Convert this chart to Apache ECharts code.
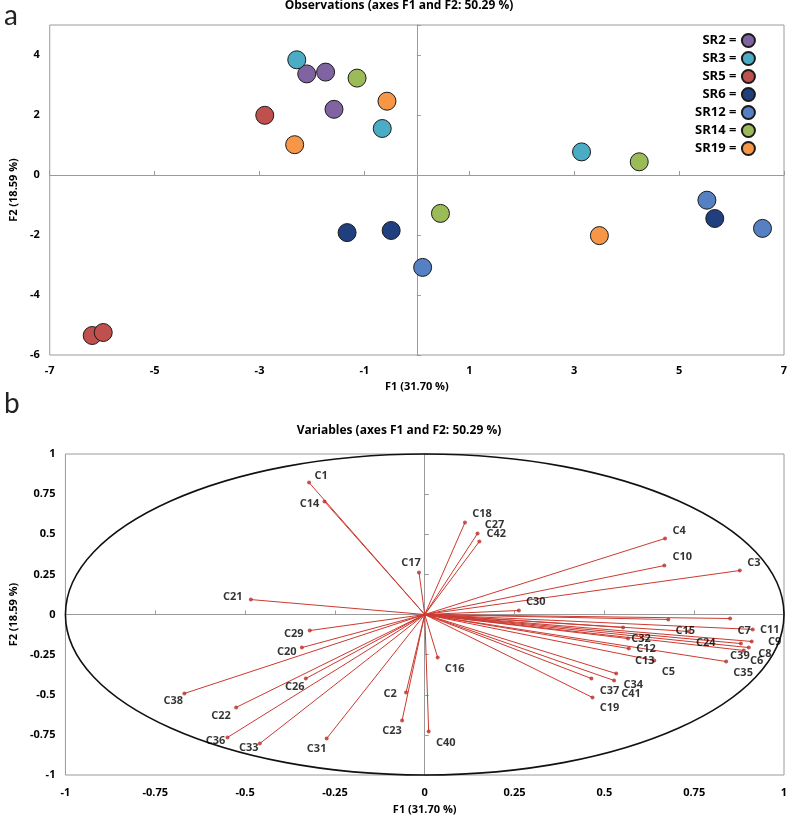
<!DOCTYPE html>
<html>
<head>
<meta charset="utf-8">
<script src="https://cdn.jsdelivr.net/npm/echarts@6/dist/echarts.min.js"></script>
<style>
  html, body { margin: 0; padding: 0; background: #fff; }
  #chart { width: 798px; height: 817px; }
</style>
</head>
<body>
<div id="chart"></div>
<script>
// observations (F1, F2) per sample group
const groups = ['SR2', 'SR3', 'SR5', 'SR6', 'SR12', 'SR14', 'SR19'];
const sr2 = [[-2.10, 3.37], [-1.74, 3.43], [-1.58, 2.19]];
const sr3 = [[-2.29, 3.84], [-0.66, 1.55], [3.14, 0.77]];
const sr5 = [[-2.90, 1.99], [-6.19, -5.35], [-5.98, -5.25]];
const sr6 = [[-1.33, -1.92], [-0.49, -1.85], [5.68, -1.45]];
const sr12 = [[0.11, -3.08], [5.53, -0.84], [6.59, -1.78]];
const sr14 = [[-1.14, 3.23], [4.24, 0.44], [0.45, -1.28]];
const sr19 = [[-0.57, 2.46], [-2.33, 1.01], [3.48, -2.02]];
const obsData = [sr2, sr3, sr5, sr6, sr12, sr14, sr19];

// variables (correlation circle)
const varNames = ['C1', 'C14', 'C21', 'C17', 'C18', 'C27', 'C42', 'C4', 'C10', 'C3',
  'C30', 'C15', 'C7', 'C11', 'C9', 'C24', 'C39', 'C8', 'C6', 'C35',
  'C32', 'C12', 'C13', 'C5', 'C34', 'C37', 'C41', 'C19', 'C16', 'C40',
  'C2', 'C23', 'C31', 'C33', 'C36', 'C22', 'C38', 'C26', 'C20', 'C29'];
const varF1 = [-0.322, -0.279, -0.484, -0.016, 0.112, 0.147, 0.152, 0.669, 0.667, 0.877,
  0.262, 0.678, 0.850, 0.913, 0.910, 0.735, 0.880, 0.902, 0.888, 0.839,
  0.552, 0.566, 0.568, 0.639, 0.533, 0.464, 0.527, 0.467, 0.036, 0.011,
  -0.052, -0.063, -0.273, -0.459, -0.549, -0.525, -0.669, -0.331, -0.342, -0.320];
const varF2 = [0.822, 0.704, 0.093, 0.262, 0.573, 0.505, 0.455, 0.474, 0.305, 0.274,
  0.025, -0.031, -0.025, -0.093, -0.168, -0.106, -0.181, -0.206, -0.224, -0.293,
  -0.081, -0.150, -0.212, -0.287, -0.368, -0.399, -0.411, -0.517, -0.268, -0.729,
  -0.486, -0.660, -0.773, -0.804, -0.766, -0.579, -0.492, -0.399, -0.206, -0.100];
const circleRadius = 1;

// label placement (px, from the point)
const labelShift = {
  C1: [12, -7], C14: [-15, 2], C21: [-18, -3], C17: [-8, -10], C18: [17, -9],
  C27: [17, -9], C42: [17, -8], C4: [14, -8], C10: [18, -9], C3: [14, -8],
  C30: [17, -9], C15: [17, 11], C7: [14, 12], C11: [17, 0], C9: [23, 0],
  C24: [17, 11], C39: [-1, 12], C8: [16, 6], C6: [13, 10], C35: [17, 11],
  C32: [18, 11], C12: [18, 10], C13: [16, 12], C5: [14, 11], C34: [17, 11],
  C37: [18, 12], C41: [17, 13], C19: [17, 10], C16: [17, 11], C40: [17, 11],
  C2: [-16, 1], C23: [-10, 10], C31: [-10, 10], C33: [-11, 4], C36: [-12, 3],
  C22: [-15, 8], C38: [-11, 7], C26: [-11, 8], C20: [-15, 4], C29: [-16, 3]
};

const colors = ['#8064A2', '#4BACC6', '#C0504D', '#1F3F7F', '#5680C4', '#9BBB59', '#F79646'];
const FONT = '"Open Sans", Lato, sans-serif';
const boldText = { color: '#000', fontWeight: 'bold', fontSize: 11, fontFamily: FONT };

const labelX = (grid, min, max, step, gap, margin) => ({
  type: 'value', gridIndex: grid, min: min, max: max, interval: step, position: 'bottom',
  axisLine: { show: false, onZero: false }, axisTick: { show: false }, splitLine: { show: false },
  axisLabel: Object.assign({ margin: margin }, boldText),
  name: 'F1 (31.70 %)', nameLocation: 'middle', nameGap: gap, nameTextStyle: boldText
});
const labelY = (grid, min, max, step, gap, fmt) => ({
  type: 'value', gridIndex: grid, min: min, max: max, interval: step, position: 'left',
  axisLine: { show: false, onZero: false }, axisTick: { show: false }, splitLine: { show: false },
  axisLabel: Object.assign({ margin: 10, formatter: fmt }, boldText),
  name: 'F2 (18.59 %)', nameLocation: 'middle', nameGap: gap, nameTextStyle: boldText
});
const zeroAxis = (grid, min, max, step, pos) => ({
  type: 'value', gridIndex: grid, min: min, max: max, interval: step, position: pos,
  axisLine: { show: true, onZero: true, lineStyle: { color: '#9a9a9a', width: 1 } },
  axisTick: { show: true, length: 4, lineStyle: { color: '#9a9a9a' } },
  axisLabel: { show: false }, splitLine: { show: false }
});

const chart = echarts.init(document.getElementById('chart'));
chart.setOption({
  backgroundColor: '#fff',
  animation: false,
  textStyle: { fontFamily: FONT },
  title: [
    { text: 'Observations (axes F1 and F2: 50.29 %)', left: 'center', top: 0, padding: 0,
      textStyle: { fontSize: 12, fontWeight: 'bold', color: '#000', fontFamily: FONT } },
    { text: 'Variables (axes F1 and F2: 50.29 %)', left: 'center', top: 425, padding: 0,
      textStyle: { fontSize: 12, fontWeight: 'bold', color: '#000', fontFamily: FONT } }
  ],
  graphic: [
    { type: 'text', left: 4, top: 2, style: { text: 'a', fontSize: 28, fontFamily: 'Lato, sans-serif', fill: '#222' } },
    { type: 'text', left: 4, top: 390, style: { text: 'b', fontSize: 28, fontFamily: 'Lato, sans-serif', fill: '#222' } }
  ],
  legend: {
    orient: 'vertical', left: 690, top: 28, align: 'right',
    itemWidth: 14, itemHeight: 13, itemGap: 3, icon: 'circle',
    data: groups, formatter: n => n + ' =',
    textStyle: { fontSize: 13, fontWeight: 'bold', color: '#000', fontFamily: FONT, width: 50 }
  },
  grid: [
    { left: 44, right: 14, top: 25, bottom: 462, show: true, borderColor: '#9a9a9a', borderWidth: 1 },
    { left: 52, right: 14, top: 454, bottom: 42, show: true, borderColor: '#9a9a9a', borderWidth: 1 }
  ],
  xAxis: [
    labelX(0, -7, 7, 2, 26, 10),
    zeroAxis(0, -7, 7, 2, 'top'),
    labelX(1, -1, 1, 0.25, 29, 12),
    zeroAxis(1, -1, 1, 0.25, 'top')
  ],
  yAxis: [
    labelY(0, -6, 5, 2, 21, v => (v === 5 ? '' : v)),
    zeroAxis(0, -6, 5, 2, 'right'),
    labelY(1, -1, 1, 0.25, 38),
    zeroAxis(1, -1, 1, 0.25, 'right')
  ],
  series: groups.map((g, i) => ({
    name: g, type: 'scatter', xAxisIndex: 0, yAxisIndex: 0,
    symbolSize: 18, data: obsData[i], z: 5,
    itemStyle: { color: colors[i], borderColor: '#1a1a1a', borderWidth: 1, opacity: 1 }
  })).concat([
    {
      type: 'custom', xAxisIndex: 2, yAxisIndex: 2, data: [[0, 0]], silent: true, clip: false,
      renderItem: (params, api) => {
        const c = api.coord([0, 0]);
        const e = api.coord([circleRadius, circleRadius]);
        return { type: 'ellipse', shape: { cx: c[0], cy: c[1], rx: e[0] - c[0], ry: c[1] - e[1] },
          style: { fill: 'none', stroke: '#111', lineWidth: 1.6 } };
      }
    },
    {
      type: 'lines', coordinateSystem: 'cartesian2d', xAxisIndex: 2, yAxisIndex: 2, silent: true, z: 3,
      data: varNames.map((n, i) => ({ coords: [[0, 0], [varF1[i], varF2[i]]] })),
      lineStyle: { color: '#CC3A30', width: 1, opacity: 1 }
    },
    {
      type: 'scatter', xAxisIndex: 2, yAxisIndex: 2, symbolSize: 4, z: 4,
      itemStyle: { color: '#B8302A' },
      label: Object.assign({ show: true, position: 'inside', formatter: '{b}' }, boldText),
      data: varNames.map((n, i) => ({ name: n, value: [varF1[i], varF2[i]], label: { offset: labelShift[n] } }))
    }
  ])
});
</script>
</body>
</html>
